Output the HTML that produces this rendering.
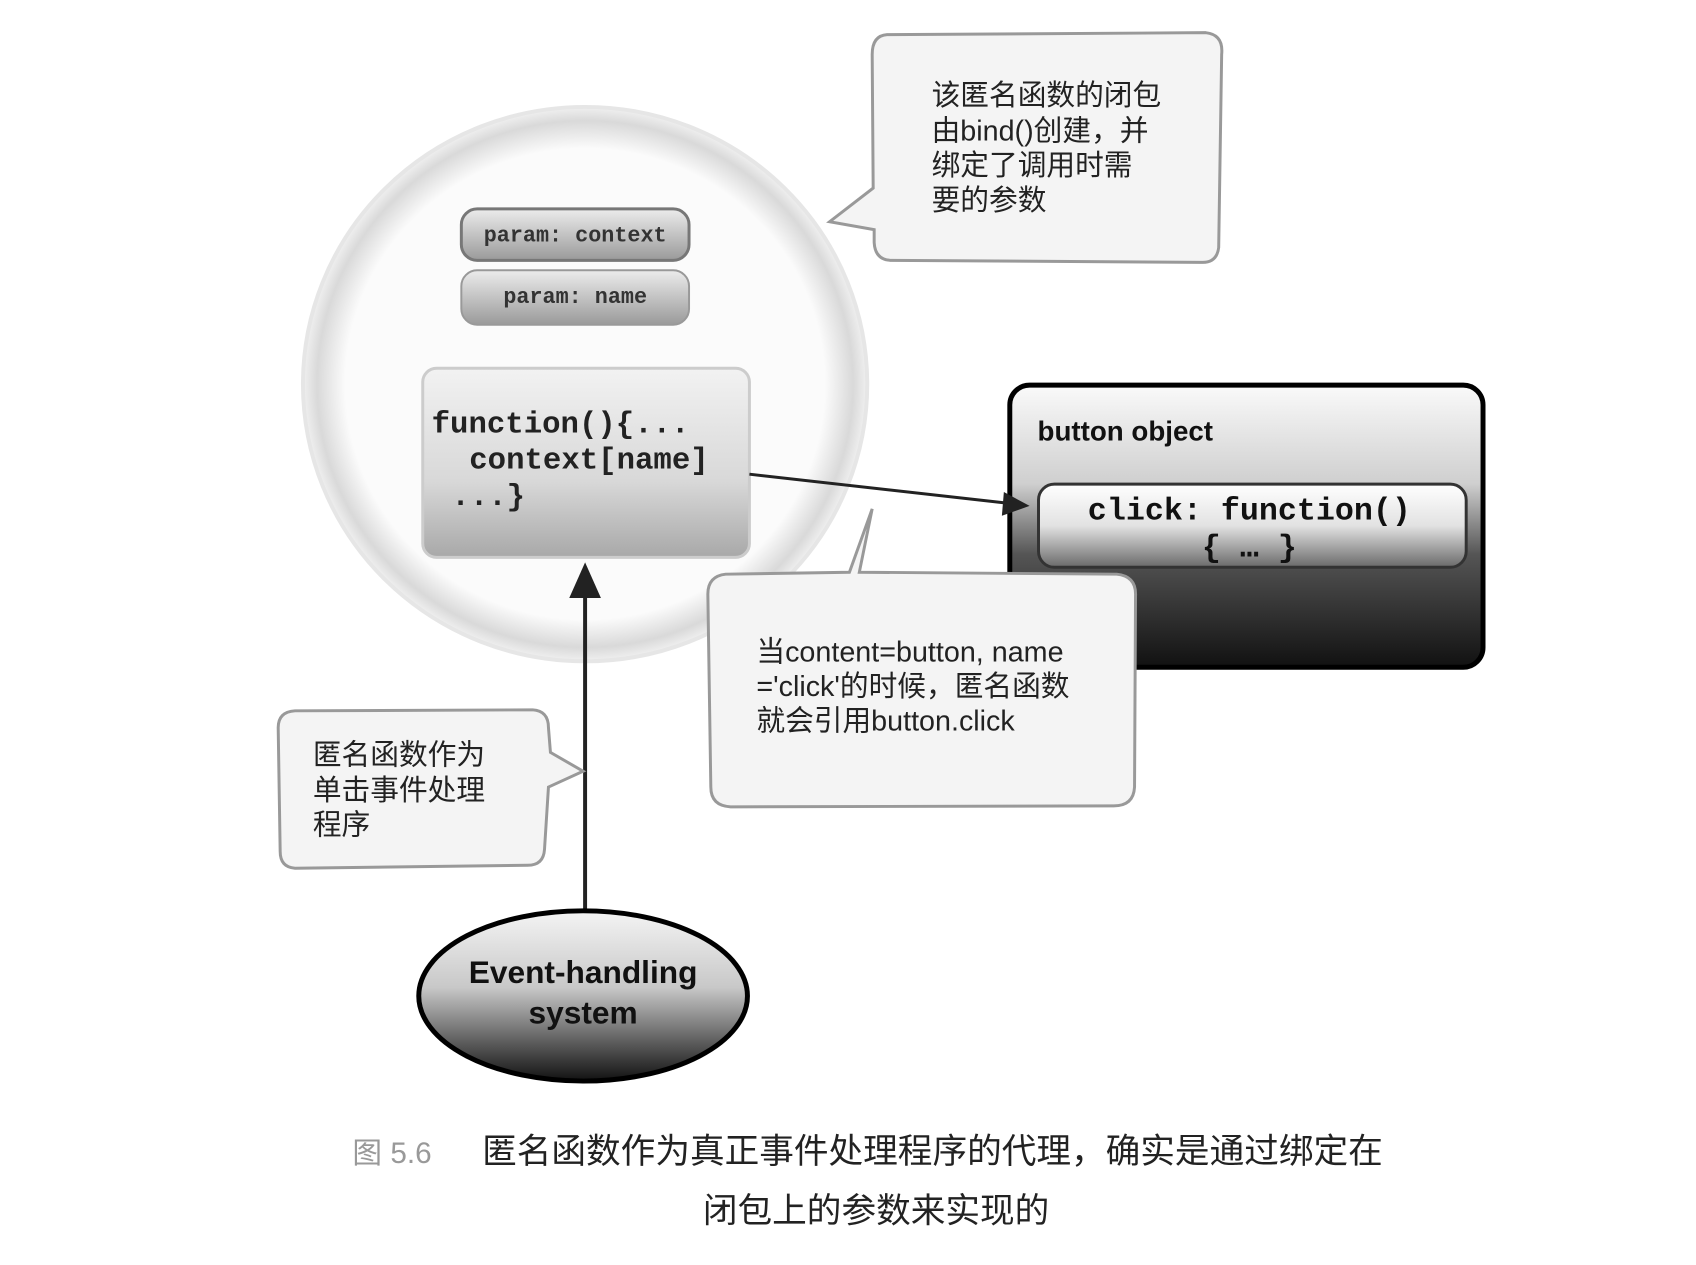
<!DOCTYPE html>
<html><head><meta charset="utf-8"><style>
body{margin:0;width:1696px;height:1260px;background:#fff;overflow:hidden}
svg text{font-family:"Liberation Sans","Noto Sans CJK SC",sans-serif}
.m{font-family:"Liberation Mono","DejaVu Sans Mono",monospace;font-weight:bold}
</style></head><body>
<svg width="1696" height="1260" xmlns="http://www.w3.org/2000/svg">
<defs>
<radialGradient id="bub" cx="50%" cy="50%" r="50%">
<stop offset="0.85" stop-color="#fbfbfb"/><stop offset="0.95" stop-color="#d9d9d9"/><stop offset="1" stop-color="#f0f0f0"/></radialGradient>
<linearGradient id="gbox" x1="0" y1="0" x2="0" y2="1"><stop offset="0" stop-color="#f2f2f2"/><stop offset="0.6" stop-color="#d8d8d8"/><stop offset="1" stop-color="#a8a8a8"/></linearGradient>
<linearGradient id="pbox" x1="0" y1="0" x2="0" y2="1"><stop offset="0" stop-color="#ececec"/><stop offset="1" stop-color="#9a9a9a"/></linearGradient>
<linearGradient id="btn" x1="0" y1="0" x2="0" y2="1"><stop offset="0" stop-color="#fafafa"/><stop offset="0.35" stop-color="#cfcfcf"/><stop offset="0.6" stop-color="#555"/><stop offset="1" stop-color="#111"/></linearGradient>
<linearGradient id="clk" x1="0" y1="0" x2="0" y2="1"><stop offset="0" stop-color="#fff"/><stop offset="0.5" stop-color="#e2e2e2"/><stop offset="1" stop-color="#6a6a6a"/></linearGradient>
<linearGradient id="ell" x1="0" y1="0" x2="0" y2="1"><stop offset="0" stop-color="#f4f4f4"/><stop offset="0.45" stop-color="#c8c8c8"/><stop offset="1" stop-color="#111"/></linearGradient>
</defs>
<g transform="scale(0.99)">
<ellipse cx="591" cy="388" rx="285" ry="280" fill="url(#bub)" stroke="#e6e6e6" stroke-width="4"/>
<rect x="466" y="211" width="230" height="52" rx="16" fill="url(#pbox)" stroke="#777" stroke-width="3"/>
<text x="581" y="244" class="m" font-size="22" text-anchor="middle" fill="#333">param: context</text>
<rect x="466" y="273" width="230" height="55" rx="16" fill="url(#pbox)" stroke="#999" stroke-width="2"/>
<text x="581" y="306" class="m" font-size="22" text-anchor="middle" fill="#333">param: name</text>
<rect x="427" y="372" width="330" height="191" rx="14" fill="url(#gbox)" stroke="#ccc" stroke-width="3"/>
<text class="m" font-size="31" fill="#222"><tspan x="436" y="437">function(){...</tspan><tspan x="474" y="473">context[name]</tspan><tspan x="456" y="510">...}</tspan></text>
<rect x="1020" y="389" width="478" height="285" rx="20" fill="url(#btn)" stroke="#000" stroke-width="5"/>
<text x="1048" y="445" font-size="28" font-weight="bold" fill="#111">button object</text>
<rect x="1049" y="489" width="432" height="84" rx="16" fill="url(#clk)" stroke="#333" stroke-width="3"/>
<text class="m" font-size="32" text-anchor="middle" fill="#111"><tspan x="1262" y="525">click: function()</tspan><tspan x="1262" y="562">{ … }</tspan></text>
<line x1="757" y1="479" x2="1024" y2="509" stroke="#222" stroke-width="3"/>
<polygon points="1040,511 1014,497 1012,521" fill="#222"/>
<line x1="591" y1="919" x2="591" y2="600" stroke="#222" stroke-width="4"/>
<polygon points="591,568 575,604 607,604" fill="#222"/>
<path d="M896,35 L1218,33 Q1236,35 1234,55 L1231,250 Q1229,266 1213,265 L901,263 Q884,263 883,245 L883,232 L838,224 L882,190 L881,55 Q881,36 896,35 Z" fill="#f4f4f4" stroke="#999" stroke-width="3"/>
<text font-size="29" fill="#222"><tspan x="941" y="106">该匿名函数的闭包</tspan><tspan x="941" y="142">由bind()创建，并</tspan><tspan x="941" y="177">绑定了调用时需</tspan><tspan x="941" y="212">要的参数</tspan></text>
<path d="M733,580 L858,578 L881,514 L868,578 L1128,580 Q1148,582 1147,602 L1146,795 Q1145,814 1125,814 L738,815 Q718,814 718,795 L715,600 Q715,582 733,580 Z" fill="#f4f4f4" stroke="#999" stroke-width="3"/>
<text font-size="29" fill="#222"><tspan x="764" y="668">当content=button, name</tspan><tspan x="764" y="703">='click'的时候，匿名函数</tspan><tspan x="764" y="738">就会引用button.click</tspan></text>
<path d="M298,718 L538,717 Q554,718 554,735 L556,760 L589,779 L554,795 L550,858 Q549,874 533,874 L298,877 Q283,876 283,860 L281,735 Q281,719 298,718 Z" fill="#f4f4f4" stroke="#999" stroke-width="3"/>
<text font-size="29" fill="#222"><tspan x="316" y="772">匿名函数作为</tspan><tspan x="316" y="808">单击事件处理</tspan><tspan x="316" y="843">程序</tspan></text>
<ellipse cx="589" cy="1006" rx="166" ry="86" fill="url(#ell)" stroke="#000" stroke-width="5"/>
<text font-size="32" font-weight="bold" text-anchor="middle" fill="#111"><tspan x="589" y="993">Event-handling</tspan><tspan x="589" y="1034">system</tspan></text>
<text x="356" y="1175" font-size="30" fill="#999">图 5.6</text>
<text x="487" y="1175" font-size="35" fill="#222">匿名函数作为真正事件处理程序的代理，确实是通过绑定在</text>
<text x="710" y="1235" font-size="35" fill="#222">闭包上的参数来实现的</text>
</g>
</svg>
</body></html>
